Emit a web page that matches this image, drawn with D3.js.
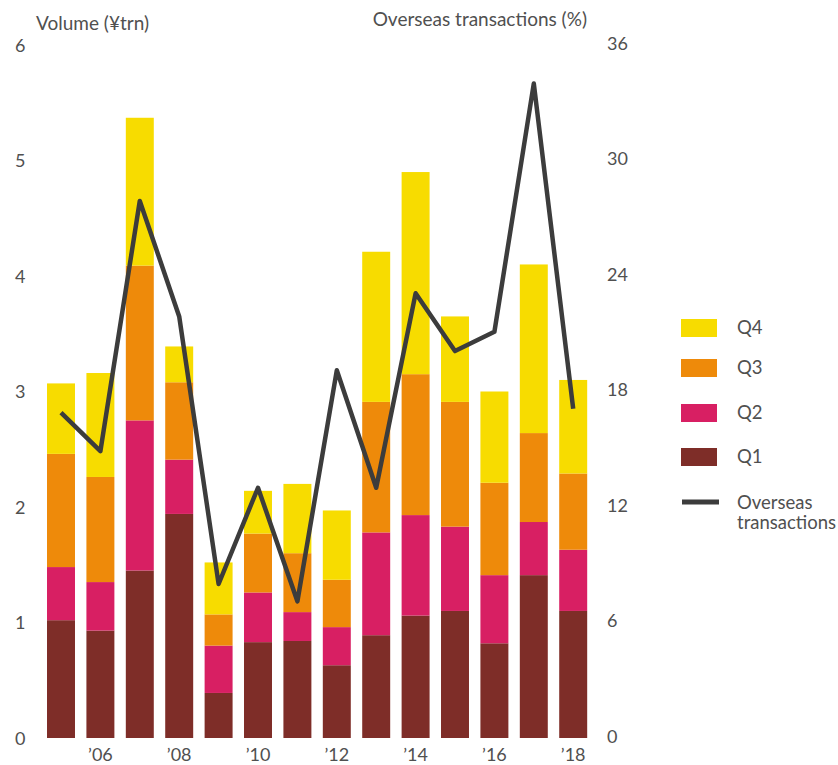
<!DOCTYPE html>
<html>
<head>
<meta charset="utf-8">
<script src="https://cdn.jsdelivr.net/npm/d3@7"></script>
<style>
  html, body { margin: 0; padding: 0; background: #ffffff; }
  svg text { font-family: "Lato", "Open Sans", sans-serif; fill: #505050; }
</style>
</head>
<body>
<svg id="chart" width="838" height="765"></svg>
<script>
// ---- data ----
const years = [2005, 2006, 2007, 2008, 2009, 2010, 2011, 2012, 2013, 2014, 2015, 2016, 2017, 2018];
const q1 = [1.02, 0.93, 1.45, 1.94, 0.39, 0.83, 0.84, 0.63, 0.89, 1.06, 1.10, 0.82, 1.41, 1.10];
const q2 = [0.46, 0.42, 1.30, 0.47, 0.41, 0.43, 0.25, 0.33, 0.89, 0.87, 0.73, 0.59, 0.46, 0.53];
const q3 = [0.98, 0.91, 1.34, 0.67, 0.27, 0.51, 0.51, 0.41, 1.13, 1.22, 1.08, 0.80, 0.77, 0.66];
const q4 = [0.61, 0.90, 1.28, 0.31, 0.45, 0.37, 0.60, 0.60, 1.30, 1.75, 0.74, 0.79, 1.46, 0.81];
const overseas = [16.9, 14.9, 27.9, 21.9, 8.0, 13.0, 7.1, 19.1, 13.0, 23.1, 20.1, 21.1, 34.0, 17.1];
const leftTicks = [0, 1, 2, 3, 4, 5, 6];
const rightTicks = [0, 6, 12, 18, 24, 30, 36];
const xTickYears = [2006, 2008, 2010, 2012, 2014, 2016, 2018];
const seriesKeys = ["Q1", "Q2", "Q3", "Q4"];
const seriesColors = ["#7e2d28", "#d81f63", "#ee8a0a", "#f7dc00"];
const legendOrder = ["Q4", "Q3", "Q2", "Q1"];

// ---- build table ----
const table = years.map((y, i) => ({ year: y, Q1: q1[i], Q2: q2[i], Q3: q3[i], Q4: q4[i] }));
const stacked = d3.stack().keys(seriesKeys)(table);

const svg = d3.select("#chart");
const baseY = 738, topY = 45;

const x = d3.scaleBand().domain(years).range([41.3, 592.9]).paddingInner(0.29).paddingOuter(0.145);
const yL = d3.scaleLinear().domain([0, 6]).range([baseY, topY]);
const yR = d3.scaleLinear().domain([0, 36]).range([baseY, topY]);
const color = d3.scaleOrdinal().domain(seriesKeys).range(seriesColors);

// bars
svg.append("g").selectAll("g").data(stacked).join("g")
  .attr("fill", d => color(d.key))
  .selectAll("rect").data(d => d).join("rect")
  .attr("x", d => x(d.data.year))
  .attr("width", x.bandwidth())
  .attr("y", d => yL(d[1]))
  .attr("height", d => yL(d[0]) - yL(d[1]));

// line
const line = d3.line()
  .x((d, i) => x(years[i]) + x.bandwidth() / 2)
  .y(d => yR(d));
svg.append("path").datum(overseas)
  .attr("d", line)
  .attr("fill", "none")
  .attr("stroke", "#3c3c3c")
  .attr("stroke-width", 4.5)
  .attr("stroke-linejoin", "round")
  .attr("stroke-linecap", "butt");

// left axis
const leftAxis = d3.axisLeft(yL).tickValues(leftTicks).tickSize(0).tickFormat(d3.format("d"));
const gl = svg.append("g").attr("transform", "translate(15,0)").call(leftAxis);
gl.select(".domain").remove();
gl.selectAll("text").attr("text-anchor", "start").attr("x", 0).attr("dy", "0.35em")
  .style("font-size", "18px").style("font-family", "Lato, sans-serif").attr("fill", "#505050");

// right axis
const rightAxis = d3.axisRight(yR).tickValues(rightTicks).tickSize(0).tickFormat(d3.format("d"));
const gr = svg.append("g").attr("transform", "translate(607,-2)").call(rightAxis);
gr.select(".domain").remove();
gr.selectAll("text").attr("x", 0).attr("dy", "0.35em")
  .style("font-size", "18px").style("font-family", "Lato, sans-serif").attr("fill", "#505050");

// bottom axis
const bottomAxis = d3.axisBottom(x).tickValues(xTickYears).tickSize(0)
  .tickFormat(d => "\u2019" + String(d).slice(2));
const gb = svg.append("g").attr("transform", "translate(0,748)").call(bottomAxis);
gb.select(".domain").remove();
gb.selectAll("text").attr("y", 0).attr("dy", "0.72em")
  .style("font-size", "18px").style("font-family", "Lato, sans-serif").attr("fill", "#505050");

// axis titles
svg.append("text").attr("x", 36).attr("y", 30).style("font-size", "19px").text("Volume (\u00a5trn)");
svg.append("text").attr("x", 587).attr("y", 26).attr("text-anchor", "end").style("font-size", "19px")
  .text("Overseas transactions (%)");

// legend
const legY = { Q4: 319, Q3: 359, Q2: 404, Q1: 448 };
const lg = svg.append("g");
legendOrder.forEach(k => {
  lg.append("rect").attr("x", 681).attr("y", legY[k]).attr("width", 36).attr("height", 18).attr("fill", color(k));
  lg.append("text").attr("x", 737).attr("y", legY[k] + 9).attr("dy", "0.35em").style("font-size", "18.5px").text(k);
});
lg.append("line").attr("x1", 682).attr("x2", 719).attr("y1", 502).attr("y2", 502)
  .attr("stroke", "#3c3c3c").attr("stroke-width", 5);
lg.append("text").attr("x", 737).attr("y", 503).attr("dy", "0.35em").style("font-size", "18.5px").text("Overseas");
lg.append("text").attr("x", 737).attr("y", 523).attr("dy", "0.35em").style("font-size", "18.5px").text("transactions");
</script>
</body>
</html>
